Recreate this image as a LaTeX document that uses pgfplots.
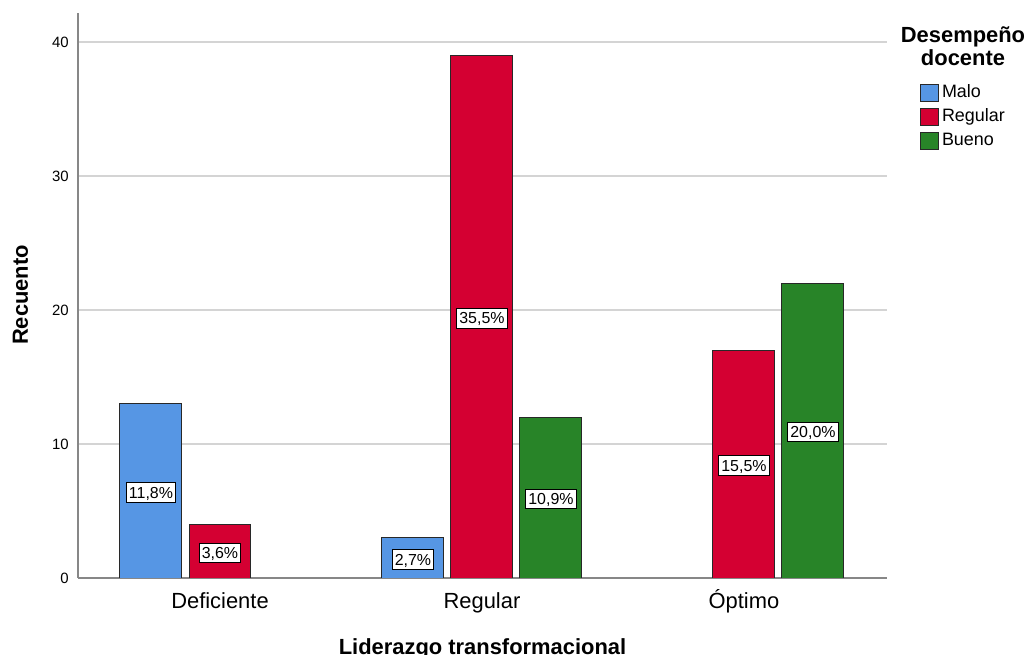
\documentclass[border=0pt]{standalone}
\usepackage{fontspec}
\setmainfont{Liberation Sans}
\usepackage{pgfplots}
\usepackage{pgfplotstable}
\pgfplotsset{compat=1.18}

\definecolor{malo}{RGB}{86,150,228}
\definecolor{regular}{RGB}{212,0,50}
\definecolor{bueno}{RGB}{40,132,40}
\definecolor{gridgray}{RGB}{212,212,212}
\definecolor{axisgray}{RGB}{135,135,135}
\definecolor{barline}{RGB}{40,40,40}

% Recuento por nivel de liderazgo (0 = Deficiente, 1 = Regular, 2 = Óptimo)
\pgfplotstableread{
x y
0 13
1 3
}\malodata
\pgfplotstableread{
x y
0 4
1 39
2 17
}\regulardata
\pgfplotstableread{
x y
1 12
2 22
}\buenodata

\newcommand{\ntotal}{110}
\newcommand{\bw}{0.2366}

\pgfplotsset{
  barstyle/.style={ybar, bar width=\bw, draw=barline, line width=1bp},
  pctlabel/.style={
    draw=none, mark=none, forget plot,
    point meta={\thisrow{y}*100/\ntotal},
    nodes near coords={\pgfmathprintnumber[fixed,fixed zerofill,precision=1,use comma]{\pgfplotspointmeta}\%},
    nodes near coords style={anchor=center, fill=white, draw=black, line width=0.8bp,
      inner xsep=2.5bp, inner ysep=4bp, text height=11.5bp, text depth=0bp,
      font=\fontsize{16}{16}\selectfont, yshift=-1.5bp},
  },
}

\begin{document}
\begin{tikzpicture}
\begin{axis}[
  name=ax,
  scale only axis,
  width=809bp, height=565bp,
  xmin=-0.542, xmax=2.546,
  ymin=0, ymax=42.16,
  axis x line*=bottom, axis y line*=left,
  axis line style={axisgray, line width=1.5bp},
  major tick length=0pt,
  xtick={0,1,2},
  xticklabels={Deficiente, Regular, Óptimo},
  ytick={0,10,20,30,40},
  ymajorgrids,
  grid style={gridgray, line width=1.5bp},
  /pgf/number format/assume math mode=true,
  xticklabel style={anchor=base, yshift=-30bp, font=\fontsize{22}{22}\selectfont},
  yticklabel style={anchor=east, inner sep=0pt, xshift=-9bp, font=\fontsize{15}{15}\selectfont},
  legend style={at={(axis description cs:1.0408,0.8735)}, anchor=north west,
    draw=none, fill=none, inner sep=0pt, outer sep=0pt,
    row sep=6bp, column sep=3bp,
    nodes={inner sep=0pt, text height=13bp, text depth=4bp, font=\fontsize{18}{18}\selectfont}},
  legend cell align=left,
  legend image code/.code={\draw[#1, line width=1bp] (0bp,-8.5bp) rectangle (18bp,8.5bp);},
]
\addplot[barstyle, bar shift=-0.2634, fill=malo] table[x=x,y=y] {\malodata};
\addlegendentry{Malo}
\addplot[barstyle, bar shift=0, fill=regular] table[x=x,y=y] {\regulardata};
\addlegendentry{Regular}
\addplot[barstyle, bar shift=0.2634, fill=bueno] table[x=x,y=y] {\buenodata};
\addlegendentry{Bueno}

% percentage of the total, set at half the height of each bar
\addplot[pctlabel] table[x expr=\thisrow{x}-0.2634, y expr=\thisrow{y}/2] {\malodata};
\addplot[pctlabel] table[x expr=\thisrow{x}, y expr=\thisrow{y}/2] {\regulardata};
\addplot[pctlabel] table[x expr=\thisrow{x}+0.2634, y expr=\thisrow{y}/2] {\buenodata};
\end{axis}

\node[anchor=base, font=\bfseries\fontsize{22}{22}\selectfont]
  at ([shift={(404.5bp,-76bp)}]ax.south west) {Liderazgo transformacional};
\node[rotate=90, anchor=base, font=\bfseries\fontsize{22}{22}\selectfont]
  at ([shift={(-50bp,283bp)}]ax.south west) {Recuento};
\node[align=center, inner sep=0pt, font=\bfseries\fontsize{22}{23}\selectfont]
  at ([shift={(885bp,531.5bp)}]ax.south west) {Desempeño\\docente};

\pgfresetboundingbox
\path[use as bounding box] ([shift={(-78bp,-77bp)}]ax.south west) rectangle ([shift={(952bp,578bp)}]ax.south west);
\end{tikzpicture}
\end{document}
